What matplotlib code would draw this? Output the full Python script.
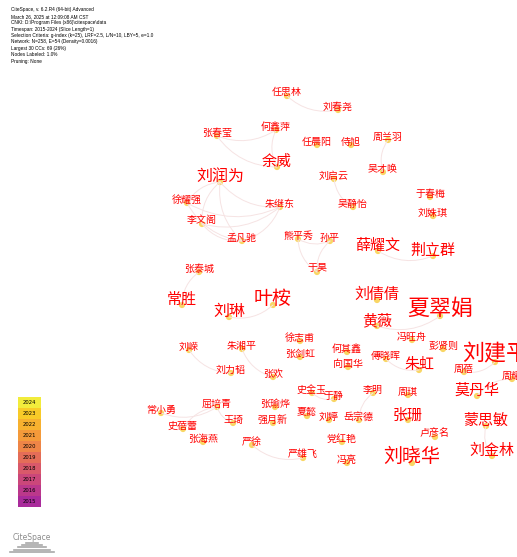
import matplotlib
matplotlib.use('Agg')
import matplotlib.pyplot as plt

plt.rcParams['font.family'] = ['Noto Sans CJK SC', 'DejaVu Sans']

# header lines (top-left)
header_lines = [
    'CiteSpace, v. 6.2.R4 (64-bit) Advanced',
    'March 26, 2025 at 12:09:08 AM CST',
    'CNKI: D:\\Program Files (x86)\\citespace\\data',
    'Timespan: 2015-2024 (Slice Length=1)',
    'Selection Criteria: g-index (k=25), LRF=2.5, L/N=10, LBY=5, e=1.0',
    'Network: N=258, E=54 (Density=0.0016)',
    'Largest 30 CCs: 69 (26%)',
    'Nodes Labeled: 1.0%',
    'Pruning: None',
]

# nodes: name, x, y (pixel layout), label size (px per char)
node_names = ['任思林', '刘春尧', '何鑫萍', '张春莹', '任晨阳', '侍旭', '周兰羽', '余威',
              '刘润为', '刘启云', '吴才唤', '徐耀强', '朱继东', '吴静怡', '于春梅', '刘姝琪',
              '李文阁', '孟凡驰', '熊平秀', '孙平', '薛耀文', '荆立群', '张泰城', '于昊',
              '常胜', '刘琳', '叶桉', '刘倩倩', '夏翠娟', '黄薇', '冯旺舟', '彭贤则',
              '刘建平', '徐志甫', '张剑虹', '何其鑫', '向国华', '傅晓晖', '朱虹', '周蓓',
              '周耀', '刘嵘', '朱湘平', '刘力韬', '张欢', '莫丹华', '周琪', '张珊',
              '蒙思敏', '卢彦名', '刘晓华', '刘金林', '常小勇', '屈培青', '王琦', '史蓓蕾',
              '张海燕', '张瑜烨', '强月新', '严徐', '史金玉', '于静', '李明', '夏懿',
              '刘婷', '岳宗德', '党红艳', '严雄飞', '冯亮']
node_x = [287, 338, 276, 217, 317, 351, 388, 277,
          220, 334, 383, 187, 280, 353, 430, 433,
          202, 242, 298, 330, 378, 433, 199, 317,
          182, 229, 273, 377, 440, 377, 412, 443,
          495, 300, 300, 347, 348, 386, 419, 464,
          512, 189, 242, 231, 273, 477, 408, 408,
          486, 435, 412, 492, 161, 217, 233, 183,
          203, 275, 273, 252, 312, 334, 373, 307,
          329, 359, 342, 303, 347]
node_y = [96, 110, 130, 136, 145, 145, 140, 167,
          182, 179, 172, 203, 207, 207, 197, 216,
          224, 241, 239, 241, 251, 256, 272, 272,
          305, 317, 305, 300, 316, 326, 340, 349,
          362, 341, 357, 352, 367, 359, 370, 372,
          379, 350, 349, 373, 377, 396, 395, 420,
          426, 437, 463, 456, 413, 407, 423, 429,
          442, 407, 423, 445, 393, 399, 393, 416,
          420, 420, 442, 458, 463]
node_px = [10, 10, 10, 10, 10, 10, 10, 15,
           16, 10, 10, 10, 10, 10, 10, 10,
           10, 10, 10, 10, 15, 15, 10, 10,
           15, 16, 19, 15, 22, 15, 10, 10,
           22, 10, 10, 10, 10, 10, 15, 10,
           10, 10, 10, 10, 10, 15, 10, 15,
           15, 10, 19, 15, 10, 10, 10, 10,
           10, 10, 10, 10, 10, 10, 10, 10,
           10, 10, 10, 10, 10]

edges = [('任思林', '刘春尧'), ('张春莹', '何鑫萍'), ('何鑫萍', '余威'), ('张春莹', '余威'),
         ('周兰羽', '吴才唤'), ('刘启云', '吴静怡'), ('刘润为', '徐耀强'), ('刘润为', '朱继东'),
         ('刘润为', '李文阁'), ('刘润为', '孟凡驰'), ('徐耀强', '朱继东'), ('李文阁', '孟凡驰'),
         ('李文阁', '朱继东'), ('徐耀强', '孟凡驰'), ('孟凡驰', '朱继东'), ('熊平秀', '孙平'),
         ('熊平秀', '于昊'), ('孙平', '于昊'), ('薛耀文', '荆立群'), ('张泰城', '常胜'),
         ('刘琳', '叶桉'), ('黄薇', '夏翠娟'), ('刘嵘', '刘力韬'), ('朱湘平', '张欢'),
         ('傅晓晖', '朱虹'), ('周蓓', '刘建平'), ('周耀', '莫丹华'), ('蒙思敏', '刘金林'),
         ('常小勇', '屈培青'), ('屈培青', '史蓓蕾'), ('屈培青', '王琦'), ('严徐', '严雄飞'),
         ('史金玉', '于静'), ('李明', '岳宗德')]

years = ['2015', '2016', '2017', '2018', '2019', '2020', '2021', '2022', '2023', '2024']
year_colors = ['#a92b9b', '#bb388b', '#cb477a', '#d9596a', '#e46d58', '#ee8547',
               '#f49a3a', '#f7b12f', '#f8cb28', '#f2ec3c']

W, H = 517, 557
fig = plt.figure(figsize=(W / 100, H / 100), dpi=100)
ax = fig.add_axes([0, 0, 1, 1])
ax.set_xlim(0, W)
ax.set_ylim(H, 0)
ax.axis('off')

pos = {n: (x, y) for n, x, y in zip(node_names, node_x, node_y)}

# edges as faint arcs
for a, b in edges:
    ax.annotate('', xy=pos[b], xytext=pos[a],
                arrowprops=dict(arrowstyle='-', color='#f6e3e3', lw=0.7,
                                connectionstyle='arc3,rad=0.25', shrinkA=0, shrinkB=0))

# nodes
ax.scatter(node_x, node_y, s=20, color='#f9cf4a', alpha=0.85, edgecolors='none', zorder=2)

# labels
for n, x, y, px in zip(node_names, node_x, node_y, node_px):
    ax.text(x, y - px * 0.05, n, fontsize=px * 0.72, color='#ff0000',
            ha='center', va='baseline', zorder=3)

# header text
for i, line in enumerate(header_lines):
    ax.text(11, 10 + i * 6.4, line, fontsize=3.4, color='black', family='Liberation Sans',
            ha='left', va='center')

# year legend
lax = fig.add_axes([18 / W, (H - 507) / H, 23 / W, 110 / H])
lax.barh(range(len(years)), 1, height=1, color=year_colors)
for i, yr in enumerate(years):
    lax.text(0.5, i, yr, fontsize=3.8, ha='center', va='center', family='DejaVu Sans')
lax.set_xlim(0, 1)
lax.set_ylim(-0.5, len(years) - 0.5)
lax.axis('off')

# CiteSpace logo
ax.text(32, 537, 'CiteSpace', fontsize=5.5, color='#8c8c8c', family='DejaVu Sans',
        ha='center', va='center')
logo_steps = [6, 10, 14, 18, 22]
for i, w in enumerate(logo_steps):
    ax.plot([32 - w, 32 + w], [543 + i * 2.2, 543 + i * 2.2], color='#a8a8a8', lw=1.2)

fig.savefig('out.png', dpi=100)
